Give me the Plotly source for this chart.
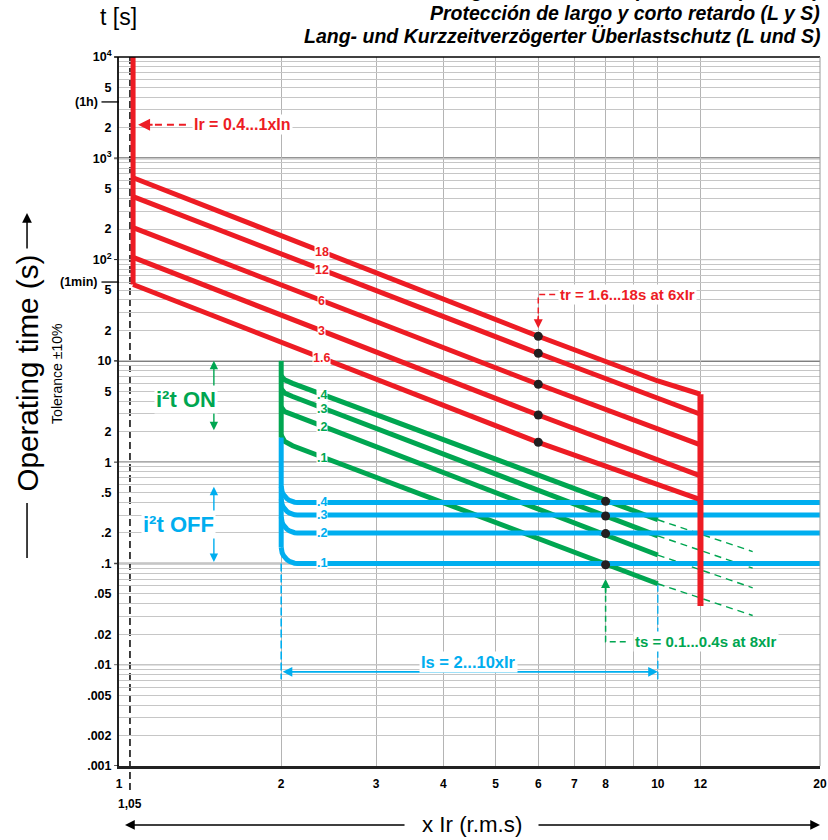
import math
import plotly.graph_objects as go

FONT = "Liberation Sans, Arial, Helvetica, sans-serif"
RED = "#ed1c24"
GREEN = "#00a651"
BLUE = "#00aeef"
DOT = "#231f20"
GRID = "#c6c6c6"
VGRID = "#b4b4b4"

# ---------------- axes / ticks ----------------
x_tick_vals = [1, 2, 3, 4, 5, 6, 7, 8, 10, 12, 20]
x_tick_text = ["1", "2", "3", "4", "5", "6", "7", "8", "10", "12", "20"]
x_grid_vals = [2, 3, 4, 5, 6, 7, 8, 9, 10, 12, 20]

y_tick_vals = [10000, 5000, 2000, 1000, 500, 200, 100, 50, 20, 10, 5, 2, 1,
               0.5, 0.2, 0.1, 0.05, 0.02, 0.01, 0.005, 0.002, 0.001]
y_tick_text = ["10<sup>4</sup>", "5", "2", "10<sup>3</sup>", "5", "2", "10<sup>2</sup>",
               "5", "2", "10", "5", "2", "1", ".5", ".2", ".1", ".05", ".02", ".01",
               ".005", ".002", ".001"]
y_time_marks = [3600, 60]
y_time_text = ["(1h)", "(1min)"]
y_decades = [1000, 100, 10, 1, 0.1, 0.01]
y_decade_color = ["#707070", "#222222", "#555555", "#222222", "#444444", "#888888"]
y_decade_width = [2, 1, 1.8, 1, 1.5, 1.2]
y_grid_vals = [m * 10 ** e for e in range(-3, 4) for m in range(1, 10)] + [10000]

# ---------------- long-time protection (red) ----------------
lt_pickup_x = 1.062
lt_top_t = 10000
red_labels = ["18", "12", "6", "3", "1.6"]
red_x = [1.062, 6, 12]
red_t = [
    [643, 17.5, 4.68],
    [418, 11.9, 2.97],
    [207, 5.87, 1.48],
    [105, 2.92, 0.733],
    [56.7, 1.57, 0.426],
]
red18_knee_x = 10
red18_knee_t = 6.33
inst_x = 12
inst_bottom_t = 0.038

# ---------------- short-time protection, i2t ON (green) ----------------
st_pickup_x = 2
st_top_t = 10
green_vert_bottom_t = 1.75
green_labels = [".4", ".3", ".2", ".1"]
green_x = [2, 2.03, 2.1, 8, 10]
green_t = [
    [7.1, 6.5, 6.0, 0.41, 0.27],
    [5.3, 4.8, 4.45, 0.29, 0.187],
    [3.5, 3.15, 2.95, 0.195, 0.121],
    [1.85, 1.6, 1.45, 0.097, 0.063],
]
green_ext_x = [10, 15]
green_ext_t = [
    [0.27, 0.131],
    [0.187, 0.0897],
    [0.121, 0.0574],
    [0.063, 0.0306],
]

# ---------------- short-time protection, i2t OFF (blue) ----------------
blue_labels = [".4", ".3", ".2", ".1"]
blue_levels = [0.4, 0.3, 0.2, 0.1]
blue_end_x = 20
blue_dash_bottom_t = 0.0072
blue_dash10_top_t = 0.063

# ---------------- marker dots ----------------
tr_dot_x = 6
ts_dot_x = 8
ts_dot_t = [0.41, 0.294, 0.197, 0.097]

# ---------------- annotation anchors ----------------
ir_text_x, ir_text_t = 1.366, 2140
ir_tip_x = 1.085
ir_dash_x = [1.166, 1.354]
tr_text_x, tr_text_t = 6.52, 45.2
tr_dash_end_x = 6.45
tr_tip_t = 21.0
ts_text_x, ts_text_t = 8.99, 0.0169
ts_dash_end_x = 8.72
ts_tip_t = 0.07
is_text_x, is_text_t = 4.46, 0.0106
is_arrow_t = 0.0085
is_from_x, is_to_x = 2, 10
on_arrow_x, on_top_t, on_bot_t = 1.5, 10, 2.0
on_text_x, on_text_t = 1.331, 4.17
off_arrow_x, off_top_t, off_bot_t = 1.5, 0.57, 0.1
off_text_x, off_text_t = 1.287, 0.245
label_x = 2.38
green_label_x = 2.41

L = math.log10


def loglog_interp(xq, xs, ts):
    for i in range(len(xs) - 1):
        if xs[i] <= xq <= xs[i + 1]:
            f = (L(xq) - L(xs[i])) / (L(xs[i + 1]) - L(xs[i]))
            return 10 ** (L(ts[i]) + f * (L(ts[i + 1]) - L(ts[i])))
    return ts[-1]


def rounded_corner(x0, level, rx=0.03, ry=0.158, n=9):
    xs, ys = [], []
    for k in range(n + 1):
        th = math.pi / 2 * k / n
        xs.append(10 ** (L(x0) + rx * (1 - math.cos(th))))
        ys.append(10 ** (L(level) + ry * (1 - math.sin(th))))
    return xs, ys


fig = go.Figure()


def line(x, y, color, width=5, dash=None):
    fig.add_trace(go.Scatter(x=x, y=y, mode="lines", hoverinfo="skip",
                             line=dict(color=color, width=width, dash=dash)))


# dashed blue verticals (Is limits)
line([st_pickup_x, st_pickup_x], [blue_levels[-1], blue_dash_bottom_t], BLUE, 1.6, "8px,3px")
line([is_to_x, is_to_x], [blue_dash10_top_t, blue_dash_bottom_t], BLUE, 1.3, "8px,3px")

# green dashed extensions
for ts in green_ext_t:
    line(green_ext_x, ts, GREEN, 1.4, "7px,5px")

# green curves
line([st_pickup_x, st_pickup_x], [st_top_t, green_vert_bottom_t], GREEN, 5)
for ts in green_t:
    line(green_x, ts, GREEN, 5)

# blue curves
line([st_pickup_x, st_pickup_x], [green_vert_bottom_t, blue_levels[-1] * 10 ** 0.158], BLUE, 5)
for lev in blue_levels:
    cx, cy = rounded_corner(st_pickup_x, lev)
    line(cx + [blue_end_x], cy + [lev], BLUE, 5)

# red curves
line([lt_pickup_x, lt_pickup_x], [lt_top_t, red_t[-1][0]], RED, 5)
for i, ts in enumerate(red_t):
    if i == 0:
        line([red_x[0], red_x[1], red18_knee_x, red_x[2]], [ts[0], ts[1], red18_knee_t, ts[2]], RED, 5)
    else:
        line(red_x, ts, RED, 5)
line([inst_x, inst_x], [red_t[0][2], inst_bottom_t], RED, 6)

# helper dashed leaders
line(ir_dash_x, [ir_text_t, ir_text_t], RED, 2, "7px,5px")
line([tr_dash_end_x, tr_dot_x, tr_dot_x], [tr_text_t, tr_text_t, tr_tip_t * 1.12], RED, 1.5, "6px,4px")
line([ts_dash_end_x, ts_dot_x, ts_dot_x], [ts_text_t, ts_text_t, ts_tip_t * 0.9], GREEN, 1.5, "6px,4px")

# dots
fig.add_trace(go.Scatter(x=[tr_dot_x] * len(red_t), y=[r[1] for r in red_t], mode="markers",
                         hoverinfo="skip", marker=dict(color=DOT, size=9)))
fig.add_trace(go.Scatter(x=[ts_dot_x] * len(ts_dot_t), y=ts_dot_t, mode="markers",
                         hoverinfo="skip", marker=dict(color=DOT, size=9)))

ann = []


def arrow(x, y, ax, ay, color, width=1.5, side="end", ref="pixel", head=2, size=1.2, xref="x", yref="y"):
    d = dict(x=x, y=y, ax=ax, ay=ay, xref=xref, yref=yref, text="", showarrow=True,
             arrowhead=head, startarrowhead=head, arrowsize=size, startarrowsize=size,
             arrowwidth=width, arrowcolor=color, arrowside=side, standoff=0, startstandoff=0)
    if ref != "pixel":
        d.update(axref=ref[0], ayref=ref[1])
    ann.append(d)


def text(x, y, s, color, size=15, xanchor="center", bg="white", xref="x", yref="y",
         weight="bold", angle=0, pad=1):
    ann.append(dict(x=x, y=y, xref=xref, yref=yref, text=s, showarrow=False, xanchor=xanchor,
                    yanchor="middle", bgcolor=bg, borderpad=pad, textangle=angle,
                    font=dict(family=FONT, size=size, color=color, weight=weight)))


# arrows (drawn before text so text boxes cover them)
arrow(L(ir_tip_x), L(ir_text_t), 16, 0, RED, 2)
arrow(L(tr_dot_x), L(tr_tip_t), 0, -14, RED, 1.5)
arrow(L(ts_dot_x), L(ts_tip_t), 0, 16, GREEN, 1.5)
arrow(L(is_to_x), L(is_arrow_t), L(is_from_x), L(is_arrow_t), BLUE, 1.6, "end+start", ("x", "y"))
arrow(L(on_arrow_x), L(on_top_t), L(on_arrow_x), L(on_bot_t), GREEN, 1.4, "end+start", ("x", "y"))
arrow(L(off_arrow_x), L(off_top_t), L(off_arrow_x), L(off_bot_t), BLUE, 1.4, "end+start", ("x", "y"))

# texts
text(L(ir_text_x), L(ir_text_t), "Ir = 0.4...1xIn", RED, 16, "left")
text(L(tr_text_x), L(tr_text_t), "tr = 1.6...18s at 6xIr", RED, 15, "left")
text(L(ts_text_x), L(ts_text_t), "ts = 0.1...0.4s at 8xIr", GREEN, 15, "left")
text(L(is_text_x), L(is_text_t), "Is = 2...10xIr", BLUE, 16.5)
text(L(on_text_x), L(on_text_t), "i²t ON", GREEN, 22)
text(L(off_text_x), L(off_text_t), "i²t OFF", BLUE, 22)

# curve labels
for lab, ts in zip(red_labels, red_t):
    text(L(label_x), L(loglog_interp(label_x, red_x, ts)), lab, RED, 12.5, pad=0)
for lab, ts in zip(green_labels, green_t):
    text(L(label_x), L(loglog_interp(green_label_x, green_x, ts)), lab, GREEN, 12.5, pad=0)
for lab, lev in zip(blue_labels, blue_levels):
    text(L(label_x), L(lev), lab, BLUE, 12.5, pad=0)

# time marks on the y axis: (1h), (1min)
for val, s in zip(y_time_marks, y_time_text):
    text(-0.0285, L(val), s, "black", 12.5, "right", xref="paper", bg="rgba(0,0,0,0)", pad=0)

# 1,05 label
text(L(1.05), -0.0536, "1,05", "black", 12, yref="paper", bg="rgba(0,0,0,0)")

# axis titles
text(-0.0014, 1.0564, "t [s]", "black", 23, xref="paper", yref="paper", bg="rgba(0,0,0,0)", weight="normal")
text(-0.1312, 0.5536, "Operating time (s)", "black", 29.6, xref="paper", yref="paper",
     bg="rgba(0,0,0,0)", weight="normal", angle=-90)
text(-0.0885, 0.553, "Tolerance ±10%", "black", 14, xref="paper", yref="paper",
     bg="rgba(0,0,0,0)", weight="normal", angle=-90)
text(0.5036, -0.0832, "x Ir (r.m.s)", "black", 22.3, xref="paper", yref="paper",
     bg="rgba(0,0,0,0)", weight="normal")
# axis-title arrows
arrow(0.0086, -0.0832, 281, 0, "black", 1.5, xref="paper", yref="paper", head=2, size=1.3)
arrow(1.0, -0.0832, -283, 0, "black", 1.5, xref="paper", yref="paper", head=2, size=1.3)
arrow(-0.1312, 0.78, 0, 37, "black", 1.5, xref="paper", yref="paper", head=2, size=1.3)

# header
title_lines = [
    ("Long- and short-time protection (L and S)", 1.0945),
    ("Protección de largo y corto retardo (L y S)", 1.062),
    ("Lang- und Kurzzeitverzögerter Überlastschutz (L und S)", 1.0296),
]
for s, yy in title_lines:
    ann.append(dict(x=1.003, y=yy, xref="paper", yref="paper", text=s, showarrow=False,
                    xanchor="right", yanchor="middle",
                    font=dict(family=FONT, size=19.5, color="black", weight="bold", style="italic")))

shapes = []
for d, c, w in zip(y_decades, y_decade_color, y_decade_width):
    shapes.append(dict(type="line", xref="paper", yref="y", x0=-0.007, x1=1, y0=d, y1=d,
                       line=dict(color=c, width=w), layer="below"))
shapes.append(dict(type="line", xref="paper", yref="y", x0=-0.007, x1=0, y0=0.001, y1=0.001,
                   line=dict(color="black", width=1.3)))
for val in y_time_marks:
    shapes.append(dict(type="line", xref="paper", yref="y", x0=-0.025, x1=0, y0=val, y1=val,
                       line=dict(color="black", width=1.3)))
shapes.append(dict(type="line", xref="paper", yref="paper", x0=-0.007, x1=1, y0=1, y1=1,
                   line=dict(color="black", width=1.5)))
shapes.append(dict(type="line", xref="paper", yref="paper", x0=1, x1=1, y0=0, y1=1,
                   line=dict(color="#9a9a9a", width=1)))
shapes.append(dict(type="line", xref="x", yref="paper", x0=1.048, x1=1.048, y0=-0.034, y1=1,
                   line=dict(color="black", width=1.5, dash="7px,4px"), layer="below"))
# y-title lower side line
shapes.append(dict(type="line", xref="paper", yref="paper", x0=-0.1312, x1=-0.1312,
                   y0=0.2934, y1=0.371, line=dict(color="black", width=1.5)))

fig.update_layout(
    width=828, height=840,
    margin=dict(l=119, r=8, t=57, b=74),
    plot_bgcolor="white", paper_bgcolor="white",
    showlegend=False,
    annotations=ann,
    shapes=shapes,
    xaxis=dict(type="log", range=[0, L(20)], tickmode="array", tickvals=x_tick_vals,
               ticktext=x_tick_text, tickfont=dict(family=FONT, size=12, color="black", weight="bold"),
               showgrid=False, zeroline=False, ticks="", ticklabelstandoff=5, automargin=False,
               minor=dict(tickmode="array", tickvals=x_grid_vals, showgrid=True, gridcolor=VGRID,
                          gridwidth=1, ticks=""),
               showline=True, linecolor="#222", linewidth=2.5),
    yaxis=dict(type="log", range=[-3, 4], tickmode="array", tickvals=y_tick_vals,
               ticktext=y_tick_text, tickfont=dict(family=FONT, size=12.5, color="black", weight="bold"),
               showgrid=False, zeroline=False, ticks="", ticklabelstandoff=3, automargin=False,
               minor=dict(tickmode="array", tickvals=y_grid_vals, showgrid=True, gridcolor=GRID,
                          gridwidth=1, ticks=""),
               showline=True, linecolor="#222", linewidth=2),
)

fig.write_html("out.html", config={"displayModeBar": False},
               post_script="document.body.style.margin='0';document.body.style.overflow='hidden';")
